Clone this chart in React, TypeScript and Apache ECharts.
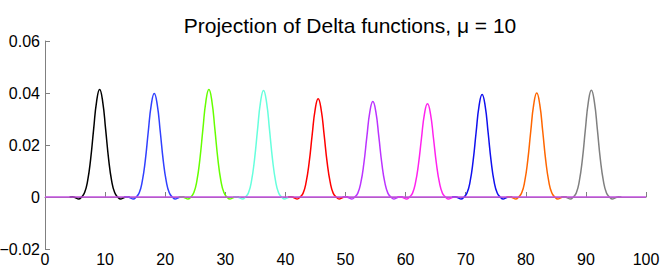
import React, { useEffect, useRef } from "react";
import * as echarts from "echarts";

const titleText = "Projection of Delta functions, \u03bc = 10";
const xTicks = [0, 10, 20, 30, 40, 50, 60, 70, 80, 90, 100];
const yTicks = [-0.02, 0, 0.02, 0.04, 0.06];

const peakCenters = [9.09, 18.18, 27.27, 36.36, 45.45, 54.55, 63.64, 72.73, 81.82, 90.91];
const xOffsets = [-5, -4.5, -4, -3.5, -3, -2.5, -2, -1.5, -1, -0.5, 0, 0.5, 1, 1.5, 2, 2.5, 3, 3.5, 4, 4.5, 5];

const curveBlack = [0, 0.0001, -0.0003, -0.0008, 0.0, 0.0017, 0.0062, 0.0145, 0.026, 0.0368, 0.0413, 0.0368, 0.026, 0.0145, 0.0062, 0.0017, 0.0, -0.0008, -0.0003, 0.0001, 0];
const curveBlue = [0, 0.0001, -0.0003, -0.0008, 0.0, 0.0016, 0.006, 0.0139, 0.0251, 0.0354, 0.0398, 0.0354, 0.0251, 0.0139, 0.006, 0.0016, 0.0, -0.0008, -0.0003, 0.0001, 0];
const curveGreen = [0, 0.0001, -0.0003, -0.0008, 0.0, 0.0017, 0.0062, 0.0145, 0.026, 0.0368, 0.0413, 0.0368, 0.026, 0.0145, 0.0062, 0.0017, 0.0, -0.0008, -0.0003, 0.0001, 0];
const curveCyan = [0, 0.0001, -0.0003, -0.0008, 0.0, 0.0016, 0.0062, 0.0144, 0.0258, 0.0365, 0.041, 0.0365, 0.0258, 0.0144, 0.0062, 0.0016, 0.0, -0.0008, -0.0003, 0.0001, 0];
const curveRed = [0, 0.0001, -0.0003, -0.0008, 0.0, 0.0015, 0.0057, 0.0132, 0.0238, 0.0336, 0.0378, 0.0336, 0.0238, 0.0132, 0.0057, 0.0015, 0.0, -0.0008, -0.0003, 0.0001, 0];
const curvePurple = [0, 0.0001, -0.0003, -0.0008, 0.0, 0.0015, 0.0055, 0.0128, 0.0231, 0.0327, 0.0367, 0.0327, 0.0231, 0.0128, 0.0055, 0.0015, 0.0, -0.0008, -0.0003, 0.0001, 0];
const curveMagenta = [0, 0.0001, -0.0003, -0.0008, 0.0, 0.0014, 0.0054, 0.0126, 0.0226, 0.032, 0.0359, 0.032, 0.0226, 0.0126, 0.0054, 0.0014, 0.0, -0.0008, -0.0003, 0.0001, 0];
const curveBlue2 = [0, 0.0001, -0.0003, -0.0008, 0.0, 0.0016, 0.0059, 0.0138, 0.0248, 0.0351, 0.0394, 0.0351, 0.0248, 0.0138, 0.0059, 0.0016, 0.0, -0.0008, -0.0003, 0.0001, 0];
const curveOrange = [0, 0.0001, -0.0003, -0.0008, 0.0, 0.0016, 0.006, 0.014, 0.0252, 0.0356, 0.04, 0.0356, 0.0252, 0.014, 0.006, 0.0016, 0.0, -0.0008, -0.0003, 0.0001, 0];
const curveGray = [0, 0.0001, -0.0003, -0.0008, 0.0, 0.0016, 0.0062, 0.0144, 0.0259, 0.0366, 0.0411, 0.0366, 0.0259, 0.0144, 0.0062, 0.0016, 0.0, -0.0008, -0.0003, 0.0001, 0];

const curves = [curveBlack, curveBlue, curveGreen, curveCyan, curveRed, curvePurple, curveMagenta, curveBlue2, curveOrange, curveGray];
const curveColors = ["#000000", "#3040ff", "#66ff00", "#66ffdd", "#ff0000", "#bb33ff", "#ff22ee", "#1010ee", "#ff6600", "#808080"];

const zeroLineX = [0, 100];
const zeroLineY = [0, 0];

const FONT = "Liberation Sans";

function fmtY(v: number): string {
  if (Math.abs(v) < 1e-9) return "0";
  if (v < 0) return "\u2212" + Math.abs(v).toFixed(2);
  return v.toFixed(2);
}

export default function App() {
  const ref = useRef<HTMLDivElement>(null);
  useEffect(() => {
    if (!ref.current) return;
    const chart = echarts.init(ref.current, undefined, { renderer: "svg" });
    const series: any[] = curves.map((c, i) => ({
      type: "line",
      data: c.map((y, j) => [peakCenters[i] + xOffsets[j], y]),
      smooth: true,
      showSymbol: false,
      lineStyle: { color: curveColors[i], width: 1.5 },
      z: 2,
    }));
    series.push({
      type: "line",
      data: zeroLineX.map((x, j) => [x, zeroLineY[j]]),
      showSymbol: false,
      lineStyle: { color: "#c450e0", width: 1.5 },
      z: 3,
    });
    chart.setOption({
      animation: false,
      backgroundColor: "#ffffff",
      title: {
        text: titleText,
        left: 345,
        top: 10,
        textAlign: "center",
        textStyle: { fontFamily: FONT, fontSize: 21, fontWeight: "normal", color: "#000" },
      },
      grid: { left: 45, right: 18, top: 41, bottom: 19, containLabel: false, outerBoundsMode: "none" },
      xAxis: {
        type: "value",
        min: xTicks[0],
        max: xTicks[xTicks.length - 1],
        interval: 10,
        axisLine: { show: true, lineStyle: { color: "#808080", width: 1 } },
        axisTick: { show: true, inside: true, length: 5, lineStyle: { color: "#808080" } },
        axisLabel: { fontFamily: FONT, fontSize: 16, color: "#000", margin: 2 },
        splitLine: { show: false },
      },
      yAxis: {
        type: "value",
        min: yTicks[0],
        max: yTicks[yTicks.length - 1],
        interval: 0.02,
        axisLine: { show: true, lineStyle: { color: "#808080", width: 1 } },
        axisTick: { show: true, inside: true, length: 5, lineStyle: { color: "#808080" } },
        axisLabel: { fontFamily: FONT, fontSize: 16, color: "#000", margin: 5, formatter: fmtY },
        splitLine: { show: false },
      },
      series,
    });
    return () => chart.dispose();
  }, []);
  return (
    <div
      ref={ref}
      style={{ position: "fixed", left: 0, top: 0, width: 664, height: 268, background: "#fff" }}
    />
  );
}
